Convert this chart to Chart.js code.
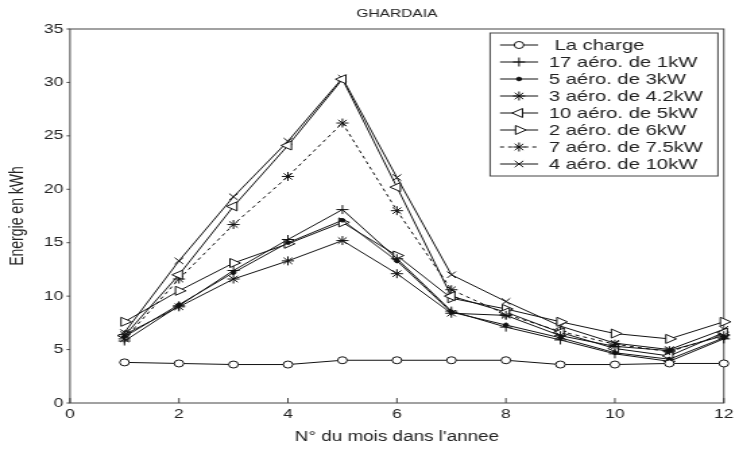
<!DOCTYPE html>
<html>
<head>
<meta charset="utf-8">
<script src="https://cdn.jsdelivr.net/npm/chart.js@4/dist/chart.umd.min.js"></script>
<style>
body{margin:0;background:#fff;overflow:hidden}
/* the figure is drawn narrow then widened, like the old exported plot */
#wrap{width:548px;height:450px;transform:scaleX(1.3485);transform-origin:0 0}
</style>
</head>
<body>
<div id="wrap"><canvas id="line-chart"></canvas></div>
<script>
var months = [1, 2, 3, 4, 5, 6, 7, 8, 9, 10, 11, 12]

var charge    = [3.8, 3.7, 3.6, 3.6, 4.0, 4.0, 4.0, 4.0, 3.6, 3.6, 3.7, 3.7]
var aero17x1  = [5.8, 9.1, 12.4, 15.3, 18.1, 13.5, 8.6, 7.1, 5.9, 4.6, 3.9, 6.0]
var aero5x3   = [6.2, 9.2, 12.2, 15.0, 17.1, 13.3, 8.5, 7.3, 6.1, 4.7, 4.1, 6.1]
var aero3x42  = [6.4, 9.0, 11.6, 13.3, 15.2, 12.1, 8.4, 8.2, 6.3, 5.3, 4.9, 6.3]
var aero10x5  = [6.3, 12.0, 18.4, 24.1, 30.3, 20.2, 10.0, 8.5, 6.6, 5.1, 4.4, 6.6]
var aero2x6   = [7.6, 10.5, 13.1, 14.9, 16.9, 13.8, 9.8, 8.8, 7.6, 6.5, 6.0, 7.6]
var aero7x75  = [6.0, 11.6, 16.7, 21.2, 26.2, 18.0, 10.6, 8.3, 6.7, 5.5, 4.8, 6.4]
var aero4x10  = [6.6, 13.3, 19.3, 24.5, 30.4, 21.1, 12.0, 9.5, 7.2, 5.6, 5.0, 6.9]

var labels = [" La charge", "17 aéro. de 1kW", "5 aéro. de 3kW", "3 aéro. de 4.2kW",
              "10 aéro. de 5kW", "2 aéro. de 6kW", "7 aéro. de 7.5kW", "4 aéro. de 10kW"]

var ink = "#111"
Chart.defaults.font.family = "'Liberation Sans', Arial, sans-serif"
Chart.defaults.color = "#222"

function toPoints(values){
  var pts = []
  for (var i = 0; i < months.length; i++){
    pts.push({x: months[i], y: values[i]})
  }
  return pts
}

function makeSet(label, values, style, extra){
  var ds = {
    label: label,
    data: toPoints(values),
    borderColor: ink,
    borderWidth: 1,
    pointStyle: style,
    pointRadius: 4,
    pointBorderColor: ink,
    pointBorderWidth: 1,
    pointBackgroundColor: "#fff",
    pointRotation: 0,
    fill: false,
    tension: 0,
    clip: false
  }
  for (var k in extra) ds[k] = extra[k]
  return ds
}

var datasets = [
  makeSet(labels[0], charge, "circle", {pointRadius: 3.5}),
  makeSet(labels[1], aero17x1, "cross", {pointRadius: 4.5}),
  makeSet(labels[2], aero5x3, "circle", {pointRadius: 1.8, pointBackgroundColor: ink}),
  makeSet(labels[3], aero3x42, "star", {pointRadius: 4.5}),
  makeSet(labels[4], aero10x5, "triangle", {pointRadius: 5.2, pointRotation: -90}),
  makeSet(labels[5], aero2x6, "triangle", {pointRadius: 5.2, pointRotation: 90}),
  makeSet(labels[6], aero7x75, "star", {pointRadius: 4.5, borderDash: [3, 3]}),
  makeSet(labels[7], aero4x10, "crossRot", {pointRadius: 4.5})
]

// box round the plot, ticks in on the x axis and out on the y axis
var frame = {
  id: "frame",
  beforeDatasetsDraw: function(chart){
    var ctx = chart.ctx, a = chart.chartArea
    var xs = chart.scales.x, ys = chart.scales.y
    ctx.save()
    ctx.strokeStyle = "#444"
    ctx.lineWidth = 1
    ctx.strokeRect(a.left, a.top, a.right - a.left, a.bottom - a.top)
    ctx.beginPath()
    xs.ticks.forEach(function(t){
      var px = xs.getPixelForValue(t.value)
      ctx.moveTo(px, a.bottom)
      ctx.lineTo(px, a.bottom - 5)
    })
    ys.ticks.forEach(function(t){
      var py = ys.getPixelForValue(t.value)
      ctx.moveTo(a.left, py)
      ctx.lineTo(a.left - 2.5, py)
    })
    ctx.stroke()
    ctx.restore()
  }
}

// title and the boxed legend with line + marker samples
var decor = {
  id: "decor",
  afterDraw: function(chart){
    var ctx = chart.ctx, a = chart.chartArea
    ctx.save()
    ctx.fillStyle = "#222"
    ctx.font = "11.5px 'Liberation Sans', Arial, sans-serif"
    ctx.textAlign = "center"
    ctx.textBaseline = "middle"
    ctx.fillText("GHARDAIA", (a.left + a.right) / 2, 14)

    var bx = 363.4, by = 33, bw = 169, bh = 143
    ctx.fillStyle = "#fff"
    ctx.fillRect(bx, by, bw, bh)
    ctx.strokeStyle = "#444"
    ctx.lineWidth = 1
    ctx.strokeRect(bx, by, bw, bh)

    ctx.font = "15px 'Liberation Sans', Arial, sans-serif"
    ctx.textAlign = "left"
    chart.data.datasets.forEach(function(ds, i){
      var ry = 45 + 17 * i
      ctx.strokeStyle = ink
      ctx.setLineDash(ds.borderDash || [])
      ctx.beginPath()
      ctx.moveTo(370.8, ry)
      ctx.lineTo(399, ry)
      ctx.stroke()
      ctx.setLineDash([])
      ctx.fillStyle = ds.pointBackgroundColor
      Chart.helpers.drawPoint(ctx, {
        pointStyle: ds.pointStyle,
        rotation: ds.pointRotation,
        radius: ds.pointRadius,
        borderWidth: 1
      }, 384.9, ry)
      ctx.fillStyle = "#222"
      ctx.fillText(ds.label, 407, ry + 1)
    })
    ctx.restore()
  }
}

var myChart = new Chart(document.getElementById("line-chart"), {
  type: "line",
  data: {datasets: datasets},
  options: {
    responsive: true,
    maintainAspectRatio: false,
    animation: false,
    layout: {padding: {top: 29, right: 10.4, left: 0, bottom: 0}},
    plugins: {
      legend: {display: false},
      title: {display: false},
      tooltip: {enabled: false}
    },
    scales: {
      x: {
        type: "linear",
        min: 0,
        max: 12,
        ticks: {stepSize: 2, padding: 4, font: {size: 13}, maxRotation: 0},
        grid: {display: false, drawTicks: false},
        border: {display: false},
        title: {display: true, text: "N° du mois dans l'annee", font: {size: 14}, padding: {top: 0, bottom: 4}},
        afterFit: function(scale){ scale.height = 47 }
      },
      y: {
        min: 0,
        max: 35,
        ticks: {stepSize: 5, padding: 5, font: {size: 13}},
        grid: {display: false, drawTicks: false},
        border: {display: false},
        title: {display: true, text: "Energie en kWh", font: {size: 14}, padding: {top: 4.9, bottom: 0}},
        afterFit: function(scale){ scale.width = 51.9 }
      }
    }
  },
  plugins: [frame, decor]
});
</script>
</body>
</html>
